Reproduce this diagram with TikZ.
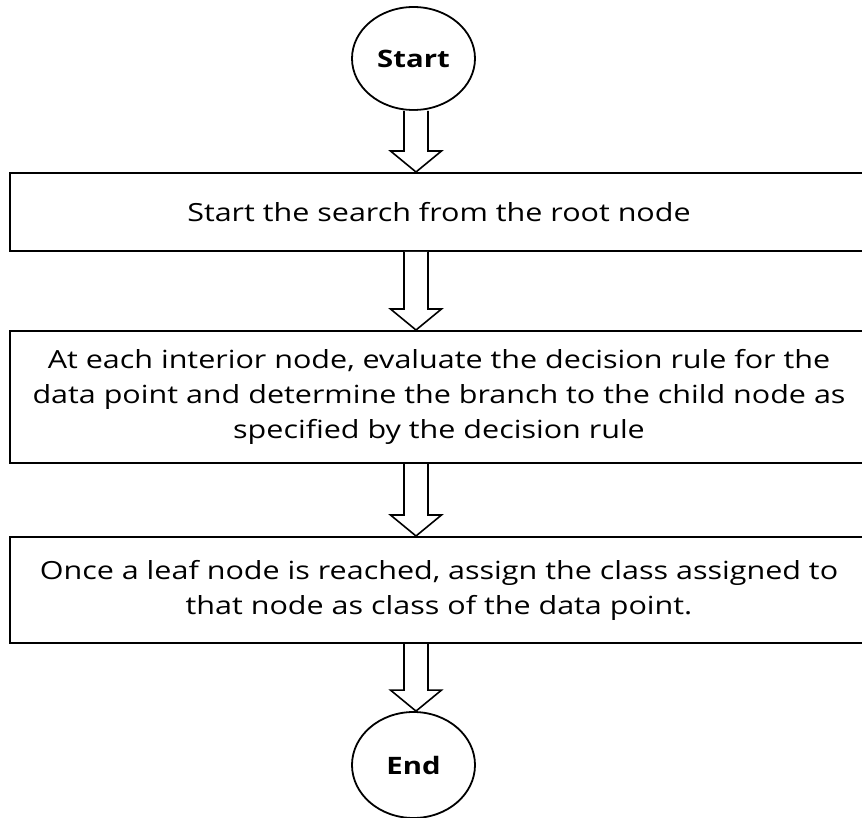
\documentclass[tikz,border=0pt]{standalone}
\usepackage{fontspec}
\setmainfont[FakeStretch=1.22]{Open Sans}
\usetikzlibrary{shapes.geometric,calc}
\newcommand\blockarrow[2]{%
  \draw[blockarrow] let \p1=(#1.south -| axis), \p2=(#2.north -| axis) in
    (\x1-12pt,\y1) -- (\x1-12pt,\y2+21pt) -- (\x1-25.5pt,\y2+21pt) -- (\x2,\y2)
    -- (\x1+25.5pt,\y2+21pt) -- (\x1+12pt,\y2+21pt) -- (\x1+12pt,\y1);}
\begin{document}
\begin{tikzpicture}[x=1pt,y=-1pt,
  box/.style={draw, line width=2pt, minimum width=858pt, inner sep=0pt, align=center,
    font=\fontsize{25}{35}\selectfont},
  term/.style={draw, ellipse, line width=1.8pt, minimum width=123pt, inner sep=0pt,
    font=\fontsize{24}{34}\selectfont\bfseries},
  blockarrow/.style={draw, line width=1.6pt, fill=white, line join=miter}]
\useasboundingbox (0,0) rectangle (862,818);
\coordinate (axis) at (416,0);
\node[term, minimum height=103pt] (start) at (413.5,58.5) {Start};
\node[box, minimum height=78pt] (b1) at (439,212) {Start the search from the root node};
\node[box, minimum height=132pt] (b2) at (439,397) {At each interior node, evaluate the decision rule for the\\data point and determine the branch to the child node as\\specified by the decision rule};
\node[box, minimum height=106pt] (b3) at (439,590) {Once a leaf node is reached, assign the class assigned to\\that node as class of the data point.};
\node[term, minimum height=106pt] (end) at (413.5,765) {End};
\blockarrow{start}{b1}
\blockarrow{b1}{b2}
\blockarrow{b2}{b3}
\blockarrow{b3}{end}
\end{tikzpicture}
\end{document}
